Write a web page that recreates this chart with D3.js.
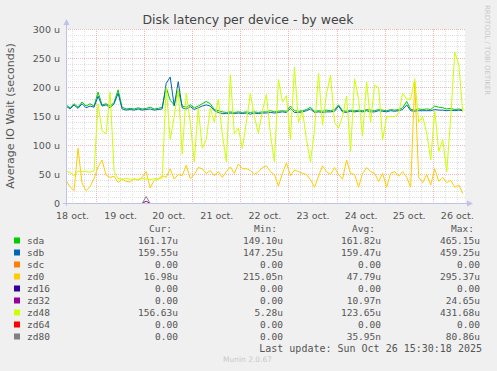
<!DOCTYPE html>
<html><head><meta charset="utf-8">
<script src="https://cdn.jsdelivr.net/npm/d3@7"></script>
<style>
html,body{margin:0;padding:0;background:#F0F0F0;}
svg{display:block;}
text{font-family:"DejaVu Sans",sans-serif;}
.mono{font-family:"DejaVu Sans Mono",monospace;}
</style></head><body>
<svg id="chart" width="497" height="371"></svg>
<script>
// ---- data (2-hour samples from 18 Oct 09:00 to 26 Oct 15:00) ----
const seriesNames = ["sda","sdb","sdc","zd0","zd16","zd32","zd48","zd64","zd80"];
const seriesColors = ["#00CC00","#0066B3","#FF8000","#FFCC00","#330099","#990099","#CCFF00","#FF0000","#808080"];
const sda = [170,165,172,166,175,168,172,168,192,170,172,168,174,196,166,163,164,163,165,163,164,166,163,164,166,200,178,170,195,168,166,170,165,168,172,176,172,162,160,158,157,158,157,158,157,158,157,158,157,158,158,160,158,159,160,159,168,160,159,160,162,166,159,160,159,161,160,162,170,160,159,161,160,161,160,162,161,160,162,161,160,162,161,162,165,176,162,161,163,162,163,162,168,166,165,163,164,162,163,161];
const sdb = [168,163,170,164,172,165,168,166,185,168,170,165,172,190,163,161,162,161,163,161,162,163,161,162,163,207,218,168,210,165,163,167,162,165,168,170,168,160,157,155,155,156,155,156,155,156,154,156,155,156,156,157,156,157,158,157,164,157,157,158,160,163,157,158,157,158,158,159,168,158,157,159,158,159,158,160,158,158,160,159,158,160,159,160,162,170,160,159,160,160,160,160,162,161,161,160,161,160,161,160];
const sdc = new Array(100).fill(0);
const zd0 = [40,29,22,95,35,22,29,43,63,75,49,45,47,36,42,38,37,43,40,45,55,27,40,42,48,45,60,42,50,48,66,43,50,62,60,52,57,48,55,45,55,63,52,68,60,60,57,50,55,62,65,55,50,30,52,70,48,58,55,52,50,41,28,47,65,55,50,62,50,42,75,52,50,28,52,62,55,52,38,52,28,52,55,47,55,45,28,210,45,36,50,32,60,38,45,36,40,28,32,17];
const zd16 = new Array(100).fill(0);
const zd32 = [0,0,0,0,0,0,0,0,0,0,0,0,0,0,0,0,0,0,0,0,4,0,0,0,0,0,0,0,0,0,0,0,0,0,0,0,0,0,0,0,0,0,0,0,0,0,0,0,0,0,0,0,0,0,0,0,0,0,0,0,0,0,0,0,0,0,0,0,0,0,0,0,0,0,0,0,0,0,0,0,0,0,0,0,0,0,0,0,0,0,0,0,0,0,0,0,0,0,0,0];
const zd48 = [55,54,48,56,55,55,54,56,172,125,120,192,55,43,42,43,42,41,42,43,42,41,43,42,44,200,110,150,198,85,190,140,72,165,95,110,165,140,180,120,72,222,120,130,95,140,190,150,121,160,188,120,72,214,175,186,110,235,140,160,110,72,126,225,135,190,221,140,130,150,185,90,215,180,117,210,140,204,200,110,150,150,150,155,190,180,180,215,140,150,121,75,160,90,110,55,150,261,240,157];
const zd64 = new Array(100).fill(0);
const zd80 = [0,0,0,0,0,0,0,0,0,0,0,0,0,0,0,0,0,0,0,0,12,0,0,0,0,0,0,0,0,0,0,0,0,0,0,0,0,0,0,0,0,0,0,0,0,0,0,0,0,0,0,0,0,0,0,0,0,0,0,0,0,0,0,0,0,0,0,0,0,0,0,0,0,0,0,0,0,0,0,0,0,0,0,0,0,0,0,0,0,0,0,0,0,0,0,0,0,0,0,0];
const seriesValues = [sda,sdb,sdc,zd0,zd16,zd32,zd48,zd64,zd80];

const yTickValues = [0,50,100,150,200,250,300];
const yTickLabels = ["0","50 u","100 u","150 u","200 u","250 u","300 u"];
const xTickLabels = ["18 oct.","19 oct.","20 oct.","21 oct.","22 oct.","23 oct.","24 oct.","25 oct.","26 oct."];

const legendCur = ["161.17u","159.55u","0.00","16.98u","0.00","0.00","156.63u","0.00","0.00"];
const legendMin = ["149.10u","147.25u","0.00","215.05n","0.00","0.00","5.28u","0.00","0.00"];
const legendAvg = ["161.82u","159.47u","0.00","47.79u","0.00","10.97n","123.65u","0.00","35.95n"];
const legendMax = ["465.15u","459.25u","0.00","295.37u","0.00","24.65u","431.68u","0.00","80.86u"];

const titleText = "Disk latency per device - by week";
const yTitle = "Average IO Wait (seconds)";
const lastUpdate = "Last update: Sun Oct 26 15:30:18 2025";

// ---- layout ----
const svg = d3.select("#chart");
const L = 66, R = 465, T = 29, B = 203;
const t0 = Date.UTC(2025,9,18,9,0);
const HOUR = 3600e3;
const times = sda.map((_, i) => new Date(t0 + i * 2 * HOUR));
const x = d3.scaleUtc().domain([new Date(t0), new Date(Date.UTC(2025,9,26,16,6))]).range([L, R]);
const y = d3.scaleLinear().domain([0, 300]).range([B, T]);
// data lines are centred on pixel rows (value 0 sits exactly on the axis row)
const yData = d3.scaleLinear().domain([0, 300]).range([B + 0.5, T + 0.5]);

svg.append("rect").attr("width",497).attr("height",371).attr("fill","#F0F0F0");
svg.append("rect").attr("x",L).attr("y",T).attr("width",R-L).attr("height",B-T).attr("fill","#FFFFFF");

// grid
const g = svg.append("g").attr("shape-rendering","crispEdges");
const minorY = d3.range(10, 301, 10).filter(v => v % 50 !== 0);
const majorY = d3.range(50, 301, 50);
const minC = "#E0E0E0", majC = "#F3B6B6";
g.selectAll(".hy").data(minorY).join("line")
  .attr("x1",L).attr("x2",R).attr("y1",d=>Math.round(y(d))+0.5).attr("y2",d=>Math.round(y(d))+0.5)
  .attr("stroke",minC).attr("stroke-dasharray","1,1");
const days = d3.utcDay.range(new Date(t0), x.domain()[1]);
const sixH = d3.utcHour.every(6).range(new Date(t0), x.domain()[1]).filter(d => d.getUTCHours() !== 0);
g.selectAll(".vx").data(sixH).join("line")
  .attr("x1",d=>Math.round(x(d))+0.5).attr("x2",d=>Math.round(x(d))+0.5).attr("y1",T).attr("y2",B)
  .attr("stroke",minC).attr("stroke-dasharray","1,1");
g.selectAll(".my").data(majorY).join("line")
  .attr("x1",L).attr("x2",R).attr("y1",d=>Math.round(y(d))+0.5).attr("y2",d=>Math.round(y(d))+0.5)
  .attr("stroke",majC).attr("stroke-dasharray","1,1");
g.selectAll(".mx").data(days).join("line")
  .attr("x1",d=>Math.round(x(d))+0.5).attr("x2",d=>Math.round(x(d))+0.5).attr("y1",T).attr("y2",B)
  .attr("stroke",majC).attr("stroke-dasharray","1,1");

// series lines (all nine; the all-zero ones lie on the x axis row)
const line = d3.line().x((d,i)=>x(times[i])).y(d=>yData(d));
const dg = svg.append("g");
seriesValues.forEach((vals, k) => {
  dg.append("path").datum(vals).attr("d", line)
    .attr("fill","none").attr("stroke", seriesColors[k]).attr("stroke-width",1)
    .attr("stroke-linejoin","round");
});

// axes lines + arrows (drawn over the data)
const axC = "#C0C0EC";
const ag = svg.append("g").attr("shape-rendering","crispEdges");
ag.append("rect").attr("x",L).attr("y",T-5).attr("width",1).attr("height",B-T+8).attr("fill",axC);
ag.append("rect").attr("x",L-3).attr("y",B).attr("width",R-L+6).attr("height",1).attr("fill",axC);
svg.append("path").attr("d",`M${L-2.5},${T-4} L${L+3.5},${T-4} L${L+0.5},${T-10} Z`).attr("fill",axC);
svg.append("path").attr("d",`M${R+2},${B-2.5} L${R+2},${B+3.5} L${R+8},${B+0.5} Z`).attr("fill",axC);

// axis labels via d3 axes
const noons = days.map(d => new Date(d.getTime() + 12*HOUR));
noons.unshift(new Date(Date.UTC(2025,9,18,12)));
const xAx = svg.append("g").attr("transform",`translate(0,${B})`)
  .call(d3.axisBottom(x).tickValues(noons).tickFormat((d,i)=>xTickLabels[i]).tickSize(0).tickPadding(9));
xAx.select(".domain").remove();
xAx.selectAll("line").remove();
xAx.selectAll("text").attr("fill","#555").style("font-size","9.5px").style("font-family","DejaVu Sans");

const yAx = svg.append("g").attr("transform",`translate(${L},0)`)
  .call(d3.axisLeft(y).tickValues(yTickValues).tickFormat((d,i)=>yTickLabels[i]).tickSize(0).tickPadding(6));
yAx.select(".domain").remove();
yAx.selectAll("line").remove();
yAx.selectAll("text").attr("fill","#555").style("font-size","9.5px").style("font-family","DejaVu Sans");

// titles
svg.append("text").attr("x",248).attr("y",24).attr("text-anchor","middle")
  .attr("fill","#444").style("font-size","12.5px").text(titleText);
svg.append("text").attr("transform","translate(14,116) rotate(-90)").attr("text-anchor","middle")
  .attr("fill","#555").style("font-size","11px").text(yTitle);
svg.append("text").attr("transform","translate(485,5) rotate(90)").attr("text-anchor","start")
  .attr("fill","#C8C8C8").style("font-size","7px").text("RRDTOOL / TOBI OETIKER");

// legend
const lg = svg.append("g").attr("class","mono").attr("fill","#555").style("font-size","9.5px");
const colX = [178, 283, 381, 480];
const headers = ["Cur:","Min:","Avg:","Max:"];
headers.forEach((h,j) => lg.append("text").attr("class","mono").attr("x",colX[j]-6).attr("y",231.5).attr("text-anchor","end").text(h));
seriesNames.forEach((n, k) => {
  const by = 243.5 + 12*k;
  svg.append("rect").attr("x",14).attr("y",by-6).attr("width",6).attr("height",6).attr("fill",seriesColors[k]);
  lg.append("text").attr("class","mono").attr("x",27).attr("y",by).text(n);
  [legendCur, legendMin, legendAvg, legendMax].forEach((arr,j) => {
    lg.append("text").attr("class","mono").attr("x",colX[j]).attr("y",by).attr("text-anchor","end").text(arr[k]);
  });
});
lg.append("text").attr("class","mono").attr("x",482).attr("y",352).attr("text-anchor","end").style("font-size","10px").text(lastUpdate);
svg.append("text").attr("x",223).attr("y",362).attr("fill","#C8C8C8").style("font-size","7.5px").text("Munin 2.0.67");
</script></body></html>
